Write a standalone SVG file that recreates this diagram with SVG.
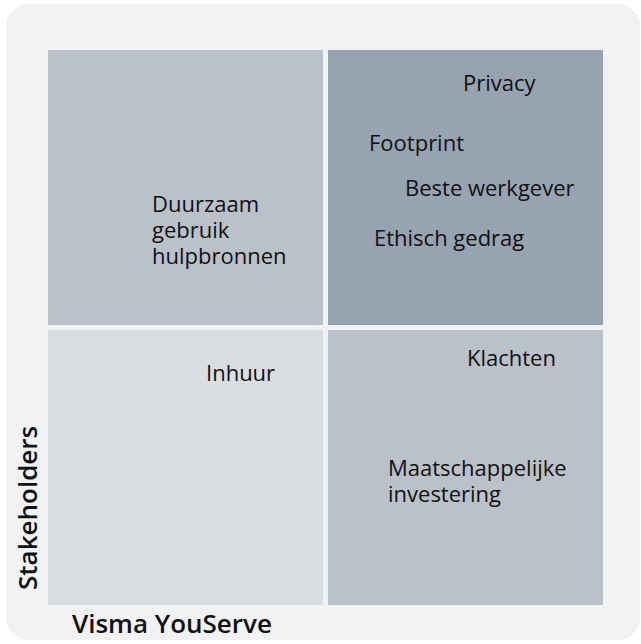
<svg xmlns="http://www.w3.org/2000/svg" width="641" height="644" viewBox="0 0 641 644">
<style>
.lbl{font-family:"Open Sans","Noto Sans","Liberation Sans",sans-serif;font-size:22px;fill:#111}
.ax{font-family:"Open Sans","Noto Sans","Liberation Sans",sans-serif;font-size:26px;font-weight:600;fill:#111}
</style>
<rect x="6" y="4" width="634" height="636" rx="22" fill="#f0f2f4"/>
<g id="q-tl"><rect x="48" y="50" width="275" height="275" fill="#bac1c9"/>
<text class="lbl" x="152" y="212">Duurzaam</text>
<text class="lbl" x="152" y="238">gebruik</text>
<text class="lbl" x="152" y="264">hulpbronnen</text></g>
<g id="q-tr"><rect x="328" y="50" width="275" height="275" fill="#97a3b0"/>
<text class="lbl" x="463" y="91">Privacy</text>
<text class="lbl" x="369" y="151">Footprint</text>
<text class="lbl" x="405" y="196">Beste werkgever</text>
<text class="lbl" x="374" y="246">Ethisch gedrag</text></g>
<g id="q-bl"><rect x="48" y="330" width="275" height="275" fill="#dadee3"/>
<text class="lbl" x="206" y="381">Inhuur</text></g>
<g id="q-br"><rect x="328" y="330" width="275" height="275" fill="#bac1c9"/>
<text class="lbl" x="467" y="366">Klachten</text>
<text class="lbl" x="388" y="476">Maatschappelijke</text>
<text class="lbl" x="388" y="502">investering</text></g>
<g id="axes">
<text class="ax" transform="translate(37,590) rotate(-90)">Stakeholders</text>
<text class="ax" x="72" y="633">Visma YouServe</text>
</g>
<g id="connectors"/>
</svg>
